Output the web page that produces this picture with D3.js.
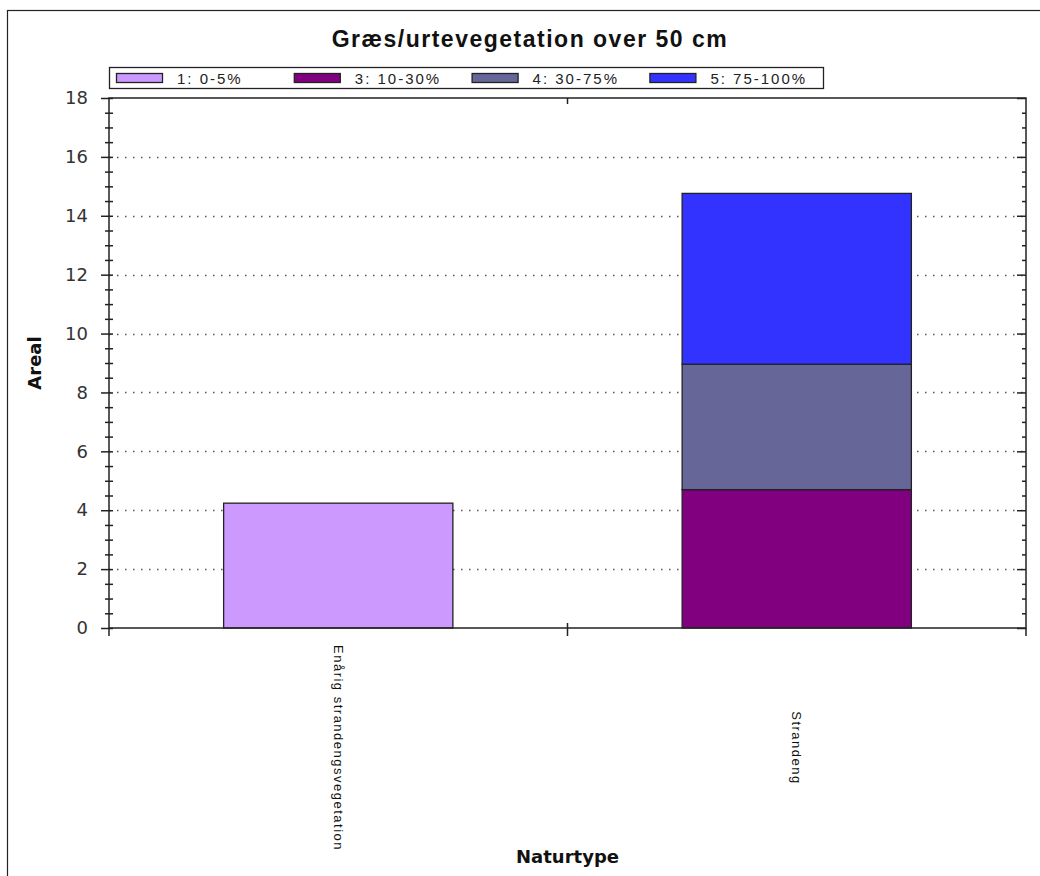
<!DOCTYPE html>
<html>
<head>
<meta charset="utf-8">
<script src="https://cdn.jsdelivr.net/npm/d3@7"></script>
<style>
  body { margin: 0; background: #fff; }
  svg { display: block; }
</style>
</head>
<body>
<div id="wrapper"></div>
<script>
// data
const categories = ['Enårig strandengsvegetation', 'Strandeng']
const seriesNames = ['1: 0-5%', '3: 10-30%', '4: 30-75%', '5: 75-100%']
const seriesColors = ['#cc99ff', '#800080', '#666699', '#3333ff']
const s1 = [4.24, 0]
const s3 = [0, 4.70]
const s4 = [0, 4.26]
const s5 = [0, 5.80]
const yTicks = [0, 2, 4, 6, 8, 10, 12, 14, 16, 18]

const seriesValues = [s1, s3, s4, s5]
const rows = categories.map((c, i) => {
    const r = { cat: c }
    seriesNames.forEach((n, j) => r[n] = seriesValues[j][i])
    return r
})

let dimensions = {
    width: 1040,
    height: 876,
    margin: { top: 98, right: 14, bottom: 248, left: 109 }
}
dimensions.boundedWidth = dimensions.width - dimensions.margin.left - dimensions.margin.right
dimensions.boundedHeight = dimensions.height - dimensions.margin.top - dimensions.margin.bottom

const svg = d3.select('#wrapper').append('svg')
    .attr('width', dimensions.width)
    .attr('height', dimensions.height)

// outer frame (right/bottom edges fall outside the picture)
svg.append('rect')
    .attr('x', 7.5).attr('y', 10.5)
    .attr('width', 1060).attr('height', 900)
    .attr('fill', 'none').attr('stroke', '#222').attr('stroke-width', 1.2)

svg.append('text')
    .attr('x', 530).attr('y', 47)
    .attr('text-anchor', 'middle')
    .style('font-family', '"Liberation Sans", Arial, sans-serif')
    .style('font-weight', 'bold')
    .style('font-size', '23px')
    .style('letter-spacing', '1.5px')
    .attr('fill', '#111')
    .text('Græs/urtevegetation over 50 cm')

const bounds = svg.append('g')
    .attr('transform', `translate(${dimensions.margin.left}, ${dimensions.margin.top})`)

const xScale = d3.scaleBand()
    .domain(categories)
    .range([0, dimensions.boundedWidth])
    .paddingInner(0.5)
    .paddingOuter(0.25)

const yScale = d3.scaleLinear()
    .domain([0, 18])
    .range([dimensions.boundedHeight, 0])

// dotted gridlines
bounds.append('g')
    .selectAll('line')
    .data(yTicks.filter(d => d > 0 && d < 18))
    .enter().append('line')
    .attr('x1', 0).attr('x2', dimensions.boundedWidth)
    .attr('y1', d => Math.round(yScale(d)) + 0.5)
    .attr('y2', d => Math.round(yScale(d)) + 0.5)
    .attr('stroke', '#555')
    .attr('stroke-width', 1.5)
    .attr('stroke-dasharray', '1.5,6.5')

// stacked bars
const stacked = d3.stack().keys(seriesNames)(rows)
bounds.append('g')
    .selectAll('g')
    .data(stacked)
    .enter().append('g')
    .attr('fill', (d, i) => seriesColors[i])
    .selectAll('rect')
    .data(d => d.filter(p => p[1] - p[0] > 0))
    .enter().append('rect')
    .attr('x', d => xScale(d.data.cat))
    .attr('y', d => yScale(d[1]))
    .attr('width', xScale.bandwidth())
    .attr('height', d => yScale(d[0]) - yScale(d[1]))
    .attr('stroke', '#222')
    .attr('stroke-width', 1.3)

// frame of plot area
const frameColor = '#222'
bounds.append('path')
    .attr('d', `M0,${dimensions.boundedHeight}V0H${dimensions.boundedWidth}V${dimensions.boundedHeight}Z`)
    .attr('fill', 'none')
    .attr('stroke', frameColor)
    .attr('stroke-width', 1.5)

// left axis, major + minor ticks crossing the line
const minorTicks = d3.range(0, 18.01, 0.5).filter(d => d % 2 !== 0)
const yAxis = d3.axisLeft(yScale).tickValues(yTicks).tickSize(8).tickPadding(13).tickSizeOuter(0)
const yAxisG = bounds.append('g').call(yAxis)
yAxisG.select('.domain').remove()
yAxisG.selectAll('.tick line').attr('x1', 4).attr('stroke', frameColor).attr('stroke-width', 1.5)
yAxisG.selectAll('.tick text')
    .style('font-family', '"DejaVu Sans", Verdana, sans-serif')
    .style('font-size', '18px')
    .attr('fill', '#333')

const yMinorG = bounds.append('g')
    .call(d3.axisLeft(yScale).tickValues(minorTicks).tickSize(4).tickFormat('').tickSizeOuter(0))
yMinorG.select('.domain').remove()
yMinorG.selectAll('.tick line').attr('x1', 4).attr('stroke', frameColor).attr('stroke-width', 1.5)

// right axis, ticks inside
const yRight = bounds.append('g')
    .attr('transform', `translate(${dimensions.boundedWidth}, 0)`)
yRight.call(d3.axisLeft(yScale).tickValues(yTicks).tickSize(9).tickFormat('').tickSizeOuter(0))
yRight.call(g => g.select('.domain').remove())
yRight.selectAll('.tick line').attr('stroke', frameColor).attr('stroke-width', 1.5)
const yRightMinor = bounds.append('g')
    .attr('transform', `translate(${dimensions.boundedWidth}, 0)`)
    .call(d3.axisLeft(yScale).tickValues(minorTicks).tickSize(4).tickFormat('').tickSizeOuter(0))
yRightMinor.select('.domain').remove()
yRightMinor.selectAll('.tick line').attr('stroke', frameColor).attr('stroke-width', 1.5)

// category boundary ticks (bottom crossing, top inside at the middle)
const step = xScale.step()
const firstEdge = xScale(categories[0]) - step * xScale.paddingOuter()
const edges = d3.range(categories.length + 1).map(i => firstEdge + i * step)
bounds.append('g')
    .selectAll('line')
    .data(edges)
    .enter().append('line')
    .attr('x1', d => d).attr('x2', d => d)
    .attr('y1', (d, i) => dimensions.boundedHeight - (i > 0 && i < edges.length - 1 ? 5 : 0))
    .attr('y2', dimensions.boundedHeight + 8)
    .attr('stroke', frameColor).attr('stroke-width', 1.5)
bounds.append('g')
    .selectAll('line')
    .data(edges.slice(1, -1))
    .enter().append('line')
    .attr('x1', d => d).attr('x2', d => d)
    .attr('y1', 0).attr('y2', 6)
    .attr('stroke', frameColor).attr('stroke-width', 1.5)

// category labels rotated
bounds.append('g')
    .selectAll('text')
    .data(categories)
    .enter().append('text')
    .attr('transform', d => `translate(${xScale(d) + xScale.bandwidth() / 2}, ${748 - dimensions.margin.top}) rotate(90)`)
    .attr('text-anchor', 'middle')
    .attr('dominant-baseline', 'central')
    .style('font-family', '"Liberation Sans", Arial, sans-serif')
    .style('font-size', '13px')
    .style('letter-spacing', '1.5px')
    .attr('fill', '#111')
    .text(d => d)

// axis titles
svg.append('text')
    .attr('x', dimensions.margin.left + dimensions.boundedWidth / 2)
    .attr('y', 863)
    .attr('text-anchor', 'middle')
    .style('font-family', '"DejaVu Sans", Verdana, sans-serif')
    .style('font-weight', 'bold')
    .style('font-size', '18px')
    .attr('fill', '#111')
    .text('Naturtype')

svg.append('text')
    .attr('transform', `translate(34, ${dimensions.margin.top + dimensions.boundedHeight / 2}) rotate(-90)`)
    .attr('text-anchor', 'middle')
    .attr('dominant-baseline', 'central')
    .style('font-family', '"DejaVu Sans", Verdana, sans-serif')
    .style('font-weight', 'bold')
    .style('font-size', '18px')
    .attr('fill', '#111')
    .text('Areal')

// legend
const legend = svg.append('g')
legend.append('rect')
    .attr('x', 109.5).attr('y', 67.5)
    .attr('width', 714).attr('height', 21)
    .attr('fill', '#fff').attr('stroke', '#222').attr('stroke-width', 1.3)
const items = legend.selectAll('g.item')
    .data(seriesNames)
    .enter().append('g')
    .attr('class', 'item')
    .attr('transform', (d, i) => `translate(${116 + i * 177.8}, 0)`)
items.append('rect')
    .attr('x', 0.5).attr('y', 73.5)
    .attr('width', 46).attr('height', 9)
    .attr('fill', (d, i) => seriesColors[i])
    .attr('stroke', '#222').attr('stroke-width', 1.3)
items.append('text')
    .attr('x', 61).attr('y', 78)
    .attr('dominant-baseline', 'central')
    .style('font-family', '"Liberation Sans", Arial, sans-serif')
    .style('font-size', '15px')
    .style('letter-spacing', '2px')
    .attr('fill', '#222')
    .text(d => d)
</script>
</body>
</html>
